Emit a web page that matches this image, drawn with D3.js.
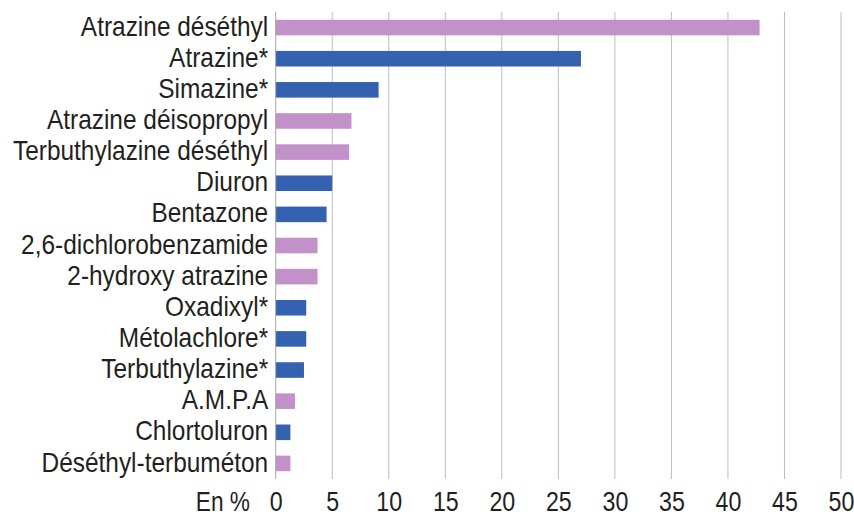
<!DOCTYPE html>
<html>
<head>
<meta charset="utf-8">
<script src="https://cdn.jsdelivr.net/npm/d3@7"></script>
<style>
  html, body { margin: 0; padding: 0; background: #ffffff; }
  svg { display: block; }
  text { font-family: "Liberation Sans", Arial, sans-serif; fill: #231f20; }
</style>
</head>
<body>
<svg id="chart" width="854" height="516"></svg>
<script>
// ---- data ----
const categories = [
  "Atrazine déséthyl",
  "Atrazine*",
  "Simazine*",
  "Atrazine déisopropyl",
  "Terbuthylazine déséthyl",
  "Diuron",
  "Bentazone",
  "2,6-dichlorobenzamide",
  "2-hydroxy atrazine",
  "Oxadixyl*",
  "Métolachlore*",
  "Terbuthylazine*",
  "A.M.P.A",
  "Chlortoluron",
  "Déséthyl-terbuméton"
];
const values = [42.8, 27.0, 9.1, 6.7, 6.5, 5.0, 4.5, 3.7, 3.7, 2.7, 2.7, 2.5, 1.7, 1.3, 1.3];
// "m" = metabolite (lilac), "p" = parent substance (blue)
const kinds = ["m", "p", "p", "m", "m", "p", "p", "m", "m", "p", "p", "p", "m", "p", "m"];
const xTicks = [0, 5, 10, 15, 20, 25, 30, 35, 40, 45, 50];
const unitLabel = "En %";

// ---- layout ----
const svg = d3.select("#chart");
const x0 = 275.7, x1 = 841, yTop = 12, yBot = 479;
const x = d3.scaleLinear().domain([0, 50]).range([x0, x1]);
const y = d3.scaleBand().domain(categories).range([yTop, yBot])
  .paddingInner(0.5).paddingOuter(0.25);
const color = d3.scaleOrdinal().domain(["m", "p"]).range(["#c291c9", "#3462b1"]);

// gridlines
svg.append("g")
  .selectAll("line")
  .data(xTicks.filter(d => d > 0))
  .join("line")
  .attr("x1", d => x(d)).attr("x2", d => x(d))
  .attr("y1", yTop).attr("y2", yBot)
  .attr("stroke", "#bdbdbd").attr("stroke-width", 1);

// bars
svg.append("g")
  .selectAll("rect")
  .data(categories)
  .join("rect")
  .attr("x", x(0))
  .attr("y", d => y(d))
  .attr("width", (d, i) => x(values[i]) - x(0))
  .attr("height", y.bandwidth())
  .attr("fill", (d, i) => color(kinds[i]));

// zero axis line
svg.append("line")
  .attr("x1", x(0)).attr("x2", x(0))
  .attr("y1", yTop).attr("y2", yBot)
  .attr("stroke", "#a6a6a6").attr("stroke-width", 1);

// y axis labels
const yAxis = d3.axisLeft(y).tickSize(0).tickPadding(0);
const gy = svg.append("g").attr("transform", `translate(${x(0)},0)`).call(yAxis);
gy.select(".domain").remove();
gy.selectAll("text")
  .attr("x", 0)
  .attr("dy", "0.3em")
  .attr("transform", "translate(-7.5,0) scale(0.905,1)")
  .style("font-size", "27px")
  .style("font-family", "'Liberation Sans', Arial, sans-serif")
  .attr("fill", "#231f20");

// x axis tick labels
const xAxis = d3.axisBottom(x).tickValues(xTicks).tickSize(0).tickPadding(0);
const gx = svg.append("g").attr("transform", `translate(0,${yBot})`).call(xAxis);
gx.select(".domain").remove();
gx.selectAll("text")
  .attr("y", 0).attr("dy", 0)
  .attr("transform", "translate(0,32) scale(0.86,1)")
  .style("font-size", "27px")
  .style("font-family", "'Liberation Sans', Arial, sans-serif")
  .attr("fill", "#231f20");

// unit label
svg.append("text")
  .attr("transform", "translate(250,511) scale(0.84,1)")
  .attr("text-anchor", "end")
  .style("font-size", "27px")
  .text(unitLabel);
</script>
</body>
</html>
